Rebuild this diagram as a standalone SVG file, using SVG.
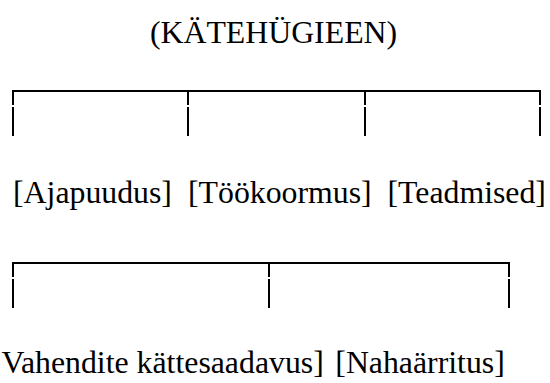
<svg xmlns="http://www.w3.org/2000/svg" width="550" height="383" viewBox="0 0 550 383">
<style>
text{font-family:"Liberation Serif","Times New Roman",serif;font-size:31.8px;fill:#000}
.ln{stroke:#000;stroke-width:2;fill:none}
</style>
<rect width="550" height="383" fill="#fff"/>
<g id="title"><text x="273.5" y="43" text-anchor="middle">(KÄTEHÜGIEEN)</text></g>
<g id="connectors">
<path class="ln" d="M13 92V105M13 107V136M12 91H541M188 91V105M188 107V136M365 91V105M365 107V136M540 92V105M540 107V136"/>
<path class="ln" d="M13 264V277M13 279V308M12 263H510M269 263V277M269 279V308M509 264V277M509 279V308"/>
</g>
<g id="ajapuudus"><text x="13" y="203">[Ajapuudus]</text></g>
<g id="tookoormus"><text x="188" y="203">[Töökoormus]</text></g>
<g id="teadmised"><text x="387.5" y="203">[Teadmised]</text></g>
<g id="vahendite"><text x="1.5" y="373">Vahendite kättesaadavus]</text></g>
<g id="nahaarritus"><text x="335.3" y="373">[Nahaärritus]</text></g>
</svg>
